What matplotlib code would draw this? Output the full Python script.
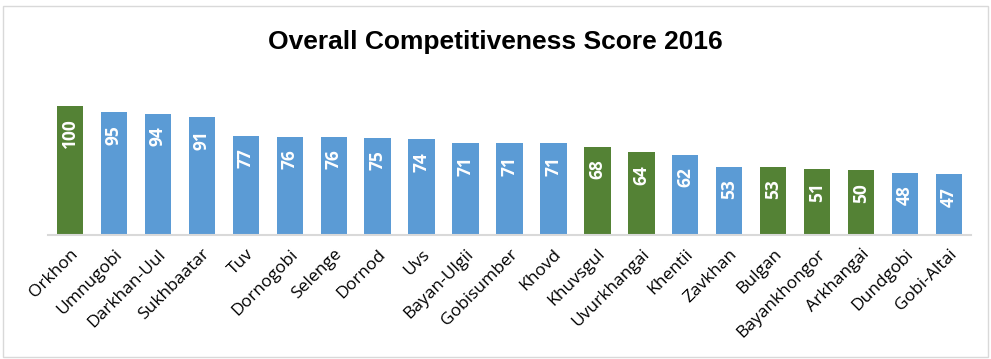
import matplotlib.pyplot as plt
from matplotlib.patches import Rectangle

# ---------- data ----------
aimags = ['Orkhon', 'Umnugobi', 'Darkhan-Uul', 'Sukhbaatar', 'Tuv', 'Dornogobi',
          'Selenge', 'Dornod', 'Uvs', 'Bayan-Ulgii', 'Gobisumber', 'Khovd',
          'Khuvsgul', 'Uvurkhangai', 'Khentii', 'Zavkhan', 'Bulgan',
          'Bayankhongor', 'Arkhangai', 'Dundgobi', 'Gobi-Altai']
scores = [100, 95, 94, 91, 77, 76, 76, 75, 74, 71, 71, 71, 68, 64, 62, 53, 53, 51, 50, 48, 47]
highlighted = ['Orkhon', 'Khuvsgul', 'Uvurkhangai', 'Bulgan', 'Bayankhongor', 'Arkhangai']

BLUE = '#5B9BD5'
GREEN = '#548235'

fig = plt.figure(figsize=(9.91, 3.59), dpi=100)
ax = fig.add_axes([48 / 991, (359 - 235) / 359, 923 / 991, 155 / 359])

colors = [GREEN if a in highlighted else BLUE for a in aimags]
x = range(len(aimags))
bars = ax.bar(x, scores, width=0.6, color=colors, zorder=2)

for rect, v in zip(bars, scores):
    ax.annotate(str(v), (rect.get_x() + rect.get_width() / 2, rect.get_height()),
                xytext=(0, -9), textcoords='offset points', rotation=90,
                ha='center', va='top', color='white', fontweight='bold',
                fontsize=12.5, family='Open Sans')

ax.set_xlim(-0.5, len(aimags) - 0.5)
ax.set_ylim(0, 120)
ax.set_yticks([])
for s in ('top', 'right', 'left'):
    ax.spines[s].set_visible(False)
ax.spines['bottom'].set_color('#D9D9D9')
ax.spines['bottom'].set_linewidth(1.5)
ax.set_xticks(list(x))
ax.set_xticklabels(aimags, rotation=45, ha='right', rotation_mode='anchor',
                   fontsize=12.5, family='Open Sans')
ax.tick_params(axis='x', length=0, pad=8)

fig.text(0.5, 1 - 42 / 359, 'Overall Competitiveness Score 2016', ha='center', va='center',
         fontsize=19, fontweight='bold', family='Liberation Sans')

fig.patches.append(Rectangle((3 / 991, 2 / 359), 985 / 991, 351 / 359, transform=fig.transFigure,
                             fill=False, edgecolor='#D9D9D9', linewidth=1))

fig.savefig('out.png', dpi=100)
